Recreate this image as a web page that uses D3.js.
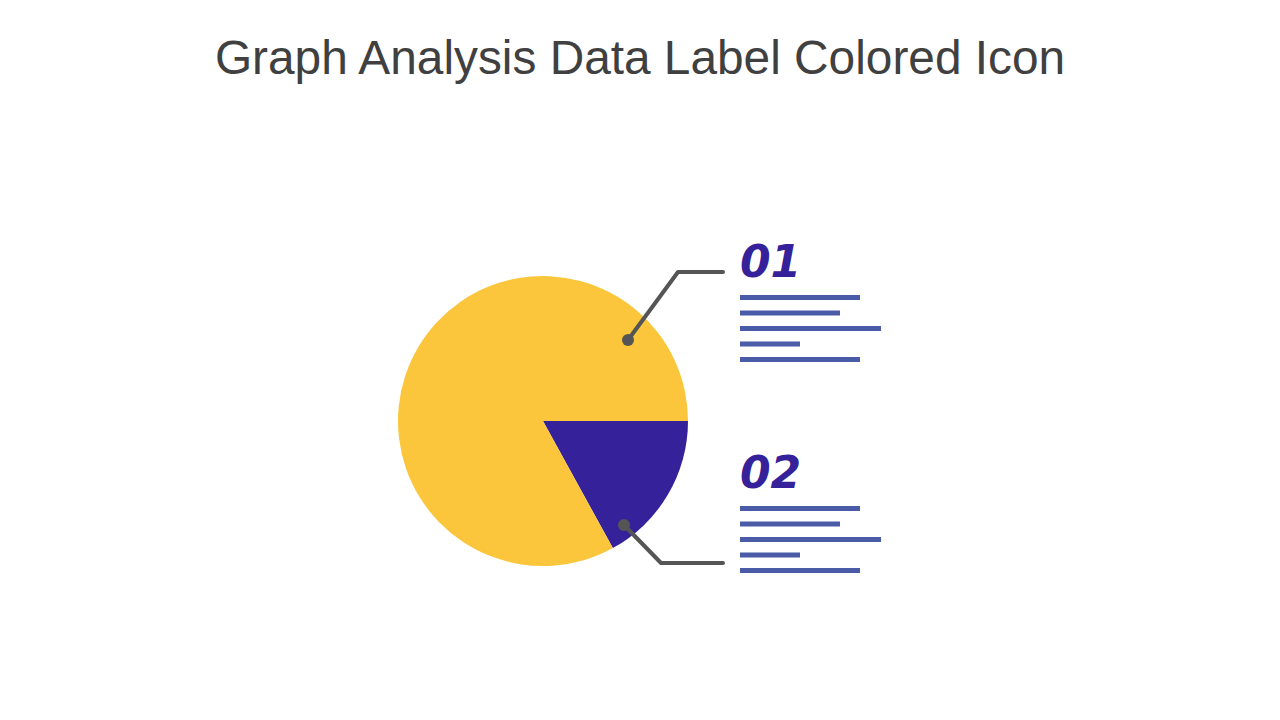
<!DOCTYPE html>
<html><head><meta charset="utf-8">
<script src="https://cdn.jsdelivr.net/npm/d3@7"></script>
<style>body{margin:0;background:#fff}</style></head>
<body><svg id="c" width="1280" height="720"></svg>
<script>
const categories = ["02", "01"];
const values = [17, 83];
const colors = ["#35229a", "#fbc63b"];
const labelNumbers = ["01", "02"];
const textLineWidths = [120, 100, 141, 60, 120];

const svg = d3.select("#c");
svg.append("text").attr("x", 640).attr("y", 74).attr("text-anchor", "middle")
  .attr("font-family", "Liberation Sans, Arial, sans-serif").attr("font-size", 47.8)
  .attr("fill", "#404040").text("Graph Analysis Data Label Colored Icon");

const cx = 543, cy = 421, r = 145;
const pie = d3.pie().sort(null).value(d => d).startAngle(Math.PI / 2).endAngle(Math.PI / 2 + 2 * Math.PI);
const arc = d3.arc().innerRadius(0).outerRadius(r);
const g = svg.append("g").attr("transform", `translate(${cx},${cy})`);
g.selectAll("path").data(pie(values)).join("path").attr("d", arc).attr("fill", (d, i) => colors[i]);

const leaders = [
  [[628, 340], [678, 272], [723, 272]],
  [[624, 525], [661, 563], [723, 563]]
];
leaders.forEach(p => {
  svg.append("path").attr("d", d3.line()(p)).attr("fill", "none").attr("stroke", "#555")
    .attr("stroke-width", 4).attr("stroke-linecap", "round").attr("stroke-linejoin", "round");
  svg.append("circle").attr("cx", p[0][0]).attr("cy", p[0][1]).attr("r", 6).attr("fill", "#555");
});

const groupsY = [277, 488];
labelNumbers.forEach((t, i) => {
  svg.append("text").attr("x", 740).attr("y", groupsY[i]).attr("font-family", "DejaVu Sans, sans-serif")
    .attr("font-style", "italic").attr("font-weight", "bold").attr("font-size", 44).attr("fill", "#35229a").text(t);
  textLineWidths.forEach((w, j) => {
    svg.append("rect").attr("x", 740).attr("y", groupsY[i] + 18 + j * 15.5).attr("width", w)
      .attr("height", 5).attr("fill", "#4a5ba8");
  });
});
</script></body></html>
